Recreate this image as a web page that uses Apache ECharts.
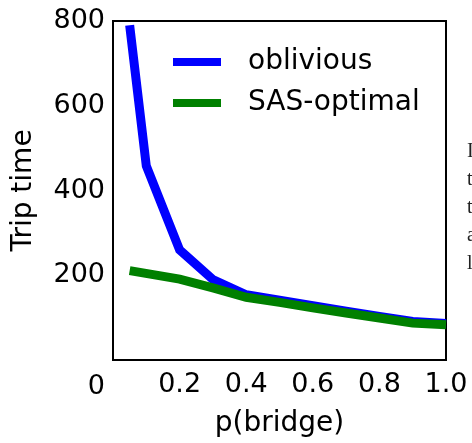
<!DOCTYPE html>
<html>
<head>
<meta charset="utf-8">
<script src="https://cdn.jsdelivr.net/npm/echarts@6/dist/echarts.min.js"></script>
<style>
html,body{margin:0;padding:0;background:#fff;}
#c{width:472px;height:443px;}
</style>
</head>
<body>
<div id="c"></div>
<script>
const seriesNames = ['oblivious', 'SAS-optimal'];
const obliviousX = [0.05, 0.1, 0.2, 0.3, 0.4, 0.5, 0.6, 0.7, 0.8, 0.9, 1.0];
const obliviousY = [790, 458, 260, 190, 154, 141, 128, 115, 103, 91, 86];
const sasX = [0.05, 0.2, 0.3, 0.4, 0.5, 0.6, 0.7, 0.8, 0.9, 1.0];
const sasY = [211, 191, 170, 148, 136, 123, 111, 99, 87, 83];
const xTicks = [0, 0.2, 0.4, 0.6, 0.8, 1.0];
const yTicks = [0, 200, 400, 600, 800];
const sideLetters = ['I', 't', 't', 'a', 'l'];

const pair = (xs, ys) => xs.map((x, i) => [x, ys[i]]);
const FONT = 'DejaVu Sans';

const chart = echarts.init(document.getElementById('c'), null, {renderer: 'canvas'});
chart.setOption({
  animation: false,
  backgroundColor: '#fff',
  grid: {left: 113, top: 21, right: 26, bottom: 80, show: true, borderColor: '#000', borderWidth: 2, backgroundColor: 'transparent'},
  xAxis: {
    type: 'value', min: xTicks[0], max: xTicks[xTicks.length - 1], interval: 0.2,
    name: 'p(bridge)', nameLocation: 'middle', nameGap: 50,
    nameTextStyle: {fontFamily: FONT, fontSize: 28, color: '#000'},
    axisLine: {show: false}, axisTick: {show: false}, splitLine: {show: false},
    axisLabel: {fontFamily: FONT, fontSize: 27, color: '#000', margin: 11,
      formatter: v => v === 0 ? '' : v.toFixed(1)}
  },
  yAxis: {
    type: 'value', min: yTicks[0], max: yTicks[yTicks.length - 1], interval: 200,
    name: 'Trip time', nameLocation: 'middle', nameGap: 75,
    nameTextStyle: {fontFamily: FONT, fontSize: 28, color: '#000'},
    axisLine: {show: false}, axisTick: {show: false}, splitLine: {show: false},
    axisLabel: {fontFamily: FONT, fontSize: 27, color: '#000', margin: 8,
      formatter: v => v === 0 ? '{z|0}' : String(v),
      rich: {z: {fontFamily: FONT, fontSize: 27, color: '#000', padding: [54, 0, 0, 0]}}}
  },
  legend: {
    orient: 'vertical', left: 173, top: 48, padding: 0, itemWidth: 48, itemHeight: 8, itemGap: 13,
    icon: 'rect',
    textStyle: {fontFamily: FONT, fontSize: 28, color: '#000', lineHeight: 28, padding: [0, 0, 0, 22]},
    data: seriesNames
  },
  series: [
    {name: seriesNames[0], type: 'line', data: pair(obliviousX, obliviousY), showSymbol: false, symbol: 'none',
     lineStyle: {color: '#0000ff', width: 9, cap: 'butt', join: 'miter'}, itemStyle: {color: '#0000ff'}, z: 2},
    {name: seriesNames[1], type: 'line', data: pair(sasX, sasY), showSymbol: false, symbol: 'none',
     lineStyle: {color: '#008000', width: 9, cap: 'butt', join: 'miter'}, itemStyle: {color: '#008000'}, z: 3}
  ],
  graphic: sideLetters.map((t, i) => ({
    type: 'text', left: 467, top: 142 + i * 28,
    style: {text: t, font: '20px "Liberation Serif"', fill: '#222'}
  }))
});
</script>
</body>
</html>
